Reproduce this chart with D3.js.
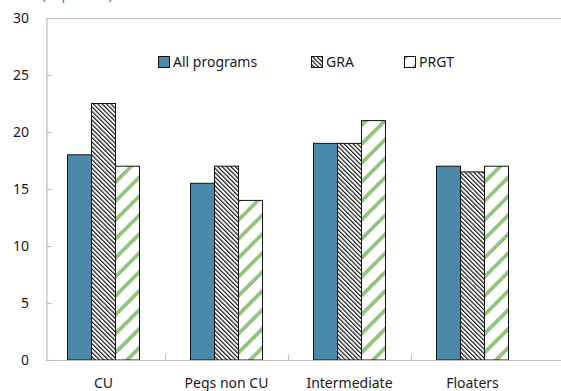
<!DOCTYPE html>
<html>
<head>
<meta charset="utf-8">
<script src="https://cdn.jsdelivr.net/npm/d3@7"></script>
<style>
  html, body { margin: 0; padding: 0; background: #fff; }
  svg { display: block; }
  text { font-family: "Noto Sans", "Open Sans", sans-serif; }
</style>
</head>
<body>
<svg id="chart" width="561" height="391"></svg>
<script>
// Exchange-rate regime groups
const categories = ["CU", "Pegs non CU", "Intermediate", "Floaters"];
// Program groups
const seriesNames = ["All programs", "GRA", "PRGT"];
// Values (percent), one array per program group, aligned with categories
const allPrograms = [18, 15.5, 19, 17];
const gra = [22.5, 17, 19, 16.5];
const prgt = [17, 14, 21, 17];
const yTicks = [0, 5, 10, 15, 20, 25, 30];
const unitLabel = "(In percent)";

const seriesValues = [allPrograms, gra, prgt];

const W = 561, H = 391;
const svg = d3.select("#chart");

// Fill patterns
const defs = svg.append("defs");
const hatch = defs.append("pattern")
  .attr("id", "hatch-gra")
  .attr("patternUnits", "userSpaceOnUse")
  .attr("width", 3.1).attr("height", 10)
  .attr("patternTransform", "rotate(-45)");
hatch.append("rect").attr("width", 3.1).attr("height", 10).attr("fill", "#fff");
hatch.append("rect").attr("width", 1.15).attr("height", 10).attr("fill", "#111");

const stripe = defs.append("pattern")
  .attr("id", "stripe-prgt")
  .attr("patternUnits", "userSpaceOnUse")
  .attr("width", 13.4).attr("height", 20)
  .attr("patternTransform", "rotate(45)");
stripe.append("rect").attr("width", 13.4).attr("height", 20).attr("fill", "#fff");
stripe.append("rect").attr("width", 3.8).attr("height", 20).attr("fill", "#93c47d");

const fills = ["#4a89aa", "url(#hatch-gra)", "url(#stripe-prgt)"];

// Scales
const y = d3.scaleLinear().domain([0, 30]).range([360, 18]);
const pad = 51 / 123;
const x0 = d3.scaleBand().domain(categories)
  .range([42, 534]).paddingInner(pad).paddingOuter(pad / 2);
const x1 = d3.scaleBand().domain(seriesNames)
  .range([0, x0.bandwidth()]).padding(0);

const axisColor = "#bfbfbf";
const plotLeft = 46;

// Top border of the plot area
svg.append("line")
  .attr("x1", plotLeft).attr("x2", W)
  .attr("y1", y(30) + 0.5).attr("y2", y(30) + 0.5)
  .attr("stroke", axisColor).attr("stroke-width", 1.2);

// Y axis with inward ticks
const yAxis = d3.axisRight(y).tickValues(yTicks).tickSize(5).tickFormat("");
const gy = svg.append("g").attr("transform", `translate(${plotLeft + 0.5},0)`).call(yAxis);
gy.select(".domain").attr("stroke", axisColor).attr("stroke-width", 1.2);
gy.selectAll(".tick line").attr("stroke", axisColor).attr("stroke-width", 1.2);

// Y tick labels
svg.append("g").selectAll("text")
  .data(yTicks).join("text")
  .attr("x", 29).attr("y", d => y(d))
  .attr("dy", "0.35em")
  .attr("text-anchor", "end")
  .attr("font-size", 14)
  .attr("fill", "#1a1a1a")
  .text(d => d);

// Bars
const groups = svg.append("g").selectAll("g")
  .data(categories).join("g")
  .attr("transform", d => `translate(${x0(d)},0)`);

groups.selectAll("rect")
  .data((d, i) => seriesNames.map((s, k) => ({ s, k, v: seriesValues[k][i] })))
  .join("rect")
  .attr("x", d => x1(d.s))
  .attr("y", d => y(d.v))
  .attr("width", x1.bandwidth())
  .attr("height", d => y(0) - y(d.v))
  .attr("fill", d => fills[d.k])
  .attr("stroke", "#111")
  .attr("stroke-width", 1);

// X axis line with inward ticks between categories
const boundaries = categories.slice(0, -1)
  .map(c => x0(c) + x0.bandwidth() / 2 + x0.step() / 2);
svg.append("line")
  .attr("x1", plotLeft).attr("x2", W)
  .attr("y1", y(0) + 0.5).attr("y2", y(0) + 0.5)
  .attr("stroke", axisColor).attr("stroke-width", 1.2);
svg.append("g").selectAll("line")
  .data(boundaries).join("line")
  .attr("x1", d => Math.round(d) + 0.5).attr("x2", d => Math.round(d) + 0.5)
  .attr("y1", y(0)).attr("y2", y(0) - 5)
  .attr("stroke", axisColor).attr("stroke-width", 1.2);

// Category labels
svg.append("g").selectAll("text")
  .data(categories).join("text")
  .attr("x", d => x0(d) + x0.bandwidth() / 2)
  .attr("y", 388)
  .attr("text-anchor", "middle")
  .attr("font-size", 14)
  .attr("fill", "#1a1a1a")
  .text(d => d);

// Legend
const legendX = [158, 311, 404];
const legend = svg.append("g").selectAll("g")
  .data(seriesNames).join("g")
  .attr("transform", (d, i) => `translate(${legendX[i]},56)`);
legend.append("rect")
  .attr("x", 0.5).attr("y", 0.5)
  .attr("width", 11).attr("height", 11)
  .attr("fill", (d, i) => fills[i])
  .attr("stroke", "#111").attr("stroke-width", 1);
legend.append("text")
  .attr("x", 15).attr("y", 11)
  .attr("font-size", 14)
  .attr("fill", "#1a1a1a")
  .text(d => d);

// Unit label at the top-left, running off the upper edge
svg.append("text")
  .attr("x", 42).attr("y", 0)
  .attr("font-size", 13)
  .attr("fill", "#2f75b5")
  .text(unitLabel);
</script>
</body>
</html>
